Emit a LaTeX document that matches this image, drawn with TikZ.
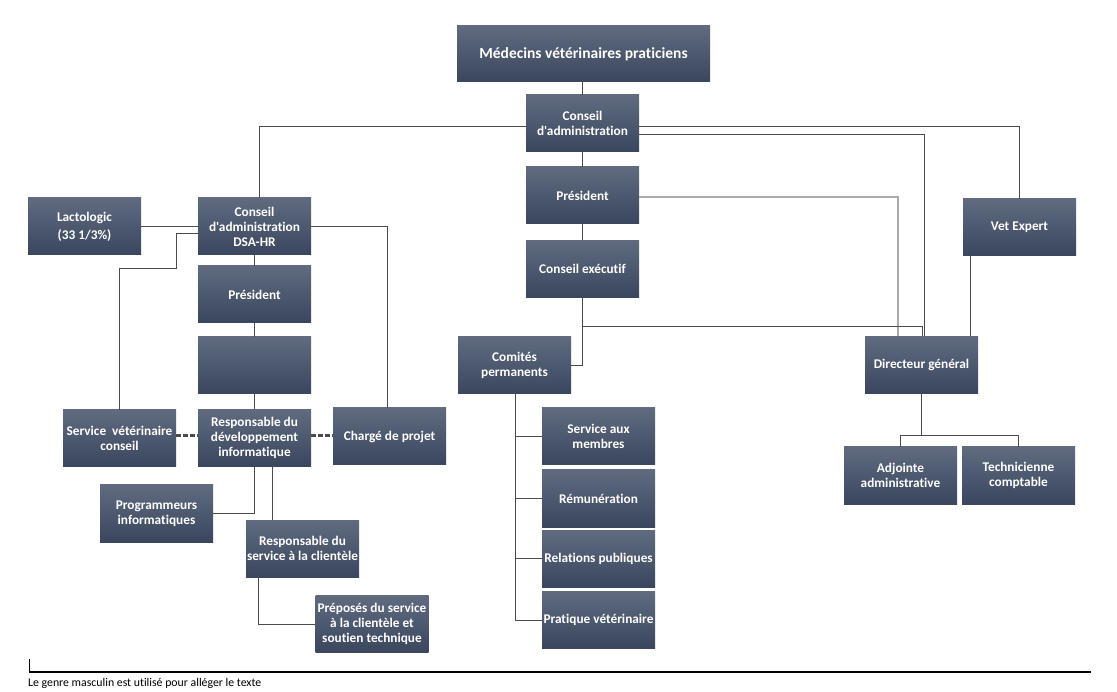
\documentclass[tikz,border=0pt]{standalone}
\usepackage{fontspec}
\setmainfont[Ligatures={NoCommon,TeXOff}]{Carlito}
\definecolor{boxtop}{RGB}{96,107,128}
\definecolor{boxbot}{RGB}{57,70,93}
\definecolor{linec}{RGB}{75,75,75}
\definecolor{lightline}{RGB}{170,170,170}
\tikzset{
  box/.style={rectangle, top color=boxtop, bottom color=boxbot, draw=none,
    minimum width=113pt, minimum height=57pt, inner sep=1pt,
    text=white, align=center, font=\fontsize{13.3}{15}\selectfont\bfseries},
  conn/.style={draw=linec, line width=0.8pt},
  lconn/.style={draw=lightline, line width=1.4pt},
  dconn/.style={draw=linec, line width=3pt, dash pattern=on 5pt off 2pt},
}
\begin{document}
\begin{tikzpicture}[x=1pt,y=-1pt]
\useasboundingbox (0,0) rectangle (1117,692);
% top column
\node[box, minimum width=253pt, minimum height=56pt, font=\fontsize{15.5}{18}\selectfont\bfseries] (med) at (583.5,54) {Médecins vétérinaires praticiens};
\node[box] (ca) at (582.5,123.5) {Conseil\\d'administration};
\node[box] (pres) at (582.5,195.5) {Président};
\node[box] (exec) at (582.5,269) {Conseil exécutif};
\node[box] (com) at (514.5,365.5) {Comités\\permanents};
\node[box] (dg) at (921.5,365) {Directeur général};
\node[box] (vet) at (1019.5,227.5) {Vet Expert};
\node[box] (adj) at (900.5,475.5) {Adjointe\\administrative};
\node[box] (tech) at (1018.5,475.5) {Technicienne\\comptable};
\node[box] (sam) at (598.5,436.5) {Service aux\\membres};
\node[box] (rem) at (598.5,498.5) {Rémunération};
\node[box] (rel) at (598.5,558.5) {Relations publiques};
\node[box] (pra) at (598.5,620) {Pratique vétérinaire};
% left part
\node[box] (lac) at (84.5,226.5) {Lactologic\\[3pt](33 1/3\%)};
\node[box] (dsa) at (254.5,226.5) {Conseil\\d'administration\\DSA-HR};
\node[box] (lpres) at (254.5,294.5) {Président};
\node[box] (blank) at (254.5,365.5) {};
\node[box] (svc) at (119.5,438.5) {Service~~vétérinaire\\conseil};
\node[box] (rdi) at (254.5,438) {Responsable du\\développement\\informatique};
\node[box] (chp) at (389.5,436.5) {Chargé de projet};
\node[box] (prog) at (156.5,513.5) {Programmeurs\\informatiques};
\node[box] (rsc) at (302.5,548.5) {Responsable du\\service à la clientèle};
\node[box] (prep) at (372,624) {Préposés du service\\à la clientèle et\\soutien technique};
% connectors, top
\draw[conn] (ca.north |- med.south) -- (ca.north);
\draw[conn] (ca.south) -- (pres.north);
\draw[conn] (pres.south) -- (exec.north);
\draw[conn] (ca.west |- 0,126) -| (259,0 |- dsa.north);
\draw[conn] (ca.east |- 0,126) -| (vet.north);
\draw[conn] (ca.east |- 0,134) -| (924,0 |- dg.north);
\draw[lconn] (pres.east |- 0,197) -| (898,0 |- dg.north);
\draw[conn] (exec.south) |- (922,326) -- (922,0 |- dg.north);
\draw[conn] (exec.south |- 0,326) |- (com.east);
\draw[conn] (970,0 |- vet.south) -- (970,0 |- dg.north);
\draw[conn] (dg.south) -- (dg.south |- 0,436);
\draw[conn] (adj.north) -- ++(0,-11) -| (tech.north);
\draw[conn] (515,0 |- com.south) |- (sam.west);
\draw[conn] (515,0 |- com.south) |- (rem.west);
\draw[conn] (515,0 |- com.south) |- (rel.west);
\draw[conn] (515,0 |- com.south) |- (pra.west);
% connectors, left
\draw[conn] (lac.east) -- (dsa.west);
\draw[conn] (dsa.west |- 0,233) -- (176,233) |- (119.5,268) -- (svc.north);
\draw[conn] (dsa.east) -| (387,0 |- chp.north);
\draw[conn] (dsa.south) -- (lpres.north);
\draw[conn] (lpres.south) -- (blank.north);
\draw[conn] (blank.south) -- (rdi.north);
\draw[dconn] (svc.east |- 0,436) -- (rdi.west |- 0,436);
\draw[dconn] (rdi.east |- 0,436) -- (chp.west |- 0,436);
\draw[conn] (rdi.south) |- (prog.east);
\draw[conn] (272,0 |- rdi.south) -- (272,0 |- rsc.north);
\draw[conn] (258,0 |- rsc.south) |- (prep.west);
% footer
\coordinate (fl) at (29,672);
\coordinate (fr) at (1091,672);
\coordinate (ft) at (29,659);
\draw[black, line width=1.2pt] (fl) -- (fr);
\draw[black, line width=1pt] (ft) -- (fl);
\node[anchor=base west, inner sep=0pt, font=\fontsize{11.8}{14}\selectfont] (foot) at (28,686) {Le genre masculin est utilisé pour alléger le texte};
\end{tikzpicture}
\end{document}
